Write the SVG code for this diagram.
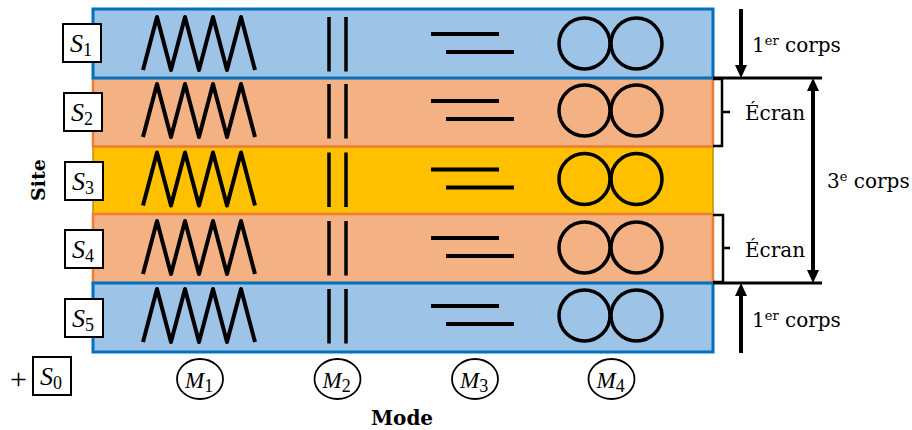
<svg xmlns="http://www.w3.org/2000/svg" width="912" height="430" viewBox="0 0 912 430">
<style>
.blue{fill:#9DC3E6;stroke:#0070C0;stroke-width:3}
.orange{fill:#F4B183;stroke:#ED7D31;stroke-width:2.5}
.yellow{fill:#FFC000;stroke:#BF9000;stroke-width:1.5}
.sym{fill:none;stroke:#000}
.zz{stroke-width:4;stroke-linejoin:round}
.bar{stroke-width:3.5}
.ln{stroke-width:4}
.circ{stroke-width:3.5}
.sbox{fill:#fff;stroke:#000;stroke-width:2}
.mell{fill:#fff;stroke:#000;stroke-width:1.8}
.it{font-family:"Liberation Serif",serif;font-style:italic;font-size:26px;fill:#000}
.sub{font-family:"Liberation Serif",serif;font-style:normal;font-size:18px}
.lbl{font-family:"DejaVu Serif",serif;font-size:20px;fill:#000}
.sup{font-size:13px}
.bold{font-family:"DejaVu Serif",serif;font-weight:bold;font-size:20px;fill:#000}
.conn{fill:none;stroke:#000}
.arr{stroke-width:4}
.hl{stroke-width:3}
.br{stroke-width:2.5}
.head{fill:#000;stroke:none}
</style>
<defs>
<g id="symbols">
<path class="sym zz" d="M143,26.5 L157,-26.5 L171,26.5 L185,-26.5 L199,26.5 L213,-26.5 L227,26.5 L241,-26.5 L255,26.5"/>
<path class="sym bar" d="M329,-26.5 V28 M346,-26.5 V28"/>
<path class="sym ln" d="M431,-9.5 H499 M446,8.5 H514"/>
<circle class="sym circ" cx="584.5" cy="0" r="25.5"/>
<circle class="sym circ" cx="636.5" cy="0" r="25.5"/>
</g>
</defs>
<g id="bands">
<rect id="row3" class="yellow" x="93" y="146.5" width="620" height="67.5"/>
<rect id="row2" class="orange" x="93" y="78" width="620" height="68.5"/>
<rect id="row4" class="orange" x="93" y="214" width="620" height="69"/>
<rect id="row1" class="blue" x="93" y="9" width="620" height="69"/>
<rect id="row5" class="blue" x="93" y="283" width="620" height="69"/>
</g>
<g id="row-symbols">
<use href="#symbols" transform="translate(0,43.5)"/>
<use href="#symbols" transform="translate(0,110.5)"/>
<use href="#symbols" transform="translate(0,179)"/>
<use href="#symbols" transform="translate(0,247.5)"/>
<use href="#symbols" transform="translate(0,315.5)"/>
</g>
<g id="S1"><rect class="sbox" x="63" y="24" width="38" height="38"/><text class="it" x="70" y="52">S<tspan class="sub" dy="4">1</tspan></text></g>
<g id="S2"><rect class="sbox" x="64" y="93" width="38" height="38"/><text class="it" x="71" y="121">S<tspan class="sub" dy="4">2</tspan></text></g>
<g id="S3"><rect class="sbox" x="65" y="162" width="38" height="38"/><text class="it" x="72" y="190">S<tspan class="sub" dy="4">3</tspan></text></g>
<g id="S4"><rect class="sbox" x="65" y="230" width="38" height="38"/><text class="it" x="72" y="258">S<tspan class="sub" dy="4">4</tspan></text></g>
<g id="S5"><rect class="sbox" x="65" y="299" width="38" height="38"/><text class="it" x="72" y="327">S<tspan class="sub" dy="4">5</tspan></text></g>
<g id="S0"><text x="18.5" y="389" text-anchor="middle" style="font-family:'Liberation Serif',serif;font-size:30px">+</text><rect class="sbox" x="33" y="357" width="38" height="38"/><text class="it" x="40" y="385">S<tspan class="sub" dy="4">0</tspan></text></g>
<g id="M1"><ellipse class="mell" cx="200" cy="379" rx="23" ry="20"/><text class="it" x="185" y="388" style="font-size:23px">M<tspan class="sub" dy="4">1</tspan></text></g>
<g id="M2"><ellipse class="mell" cx="337.5" cy="379" rx="23" ry="20"/><text class="it" x="322.5" y="388" style="font-size:23px">M<tspan class="sub" dy="4">2</tspan></text></g>
<g id="M3"><ellipse class="mell" cx="475" cy="379" rx="23" ry="20"/><text class="it" x="460" y="388" style="font-size:23px">M<tspan class="sub" dy="4">3</tspan></text></g>
<g id="M4"><ellipse class="mell" cx="611.5" cy="379" rx="23" ry="20"/><text class="it" x="596.5" y="388" style="font-size:23px">M<tspan class="sub" dy="4">4</tspan></text></g>
<g id="connectors">
<path class="conn arr" d="M741,9 V66"/>
<polygon class="head" points="735,65 747,65 741,78"/>
<path class="conn hl" d="M713,78 H822 M713,283 H822"/>
<path class="conn arr" d="M813,90 V271"/>
<polygon class="head" points="807,91 819,91 813,78"/>
<polygon class="head" points="807,270 819,270 813,283"/>
<path class="conn arr" d="M741,296 V353"/>
<polygon class="head" points="735,296 747,296 741,283"/>
<path class="conn br" d="M713,79 H722 V146 H713 M722,112 H730"/>
<path class="conn br" d="M713,215 H723 V282 H713 M723,248 H730"/>
</g>
<g id="labels">
<text class="lbl" x="752" y="52">1<tspan class="sup" dy="-7">er</tspan><tspan dy="7"> corps</tspan></text>
<text class="lbl" x="745" y="120">Écran</text>
<text class="lbl" x="827" y="188">3<tspan class="sup" dy="-7">e</tspan><tspan dy="7"> corps</tspan></text>
<text class="lbl" x="745" y="257">Écran</text>
<text class="lbl" x="752" y="327">1<tspan class="sup" dy="-7">er</tspan><tspan dy="7"> corps</tspan></text>
<text class="bold" transform="translate(45,180) rotate(-90)" text-anchor="middle" style="font-size:19px">Site</text>
<text class="bold" x="402" y="425" text-anchor="middle">Mode</text>
</g>
</svg>
